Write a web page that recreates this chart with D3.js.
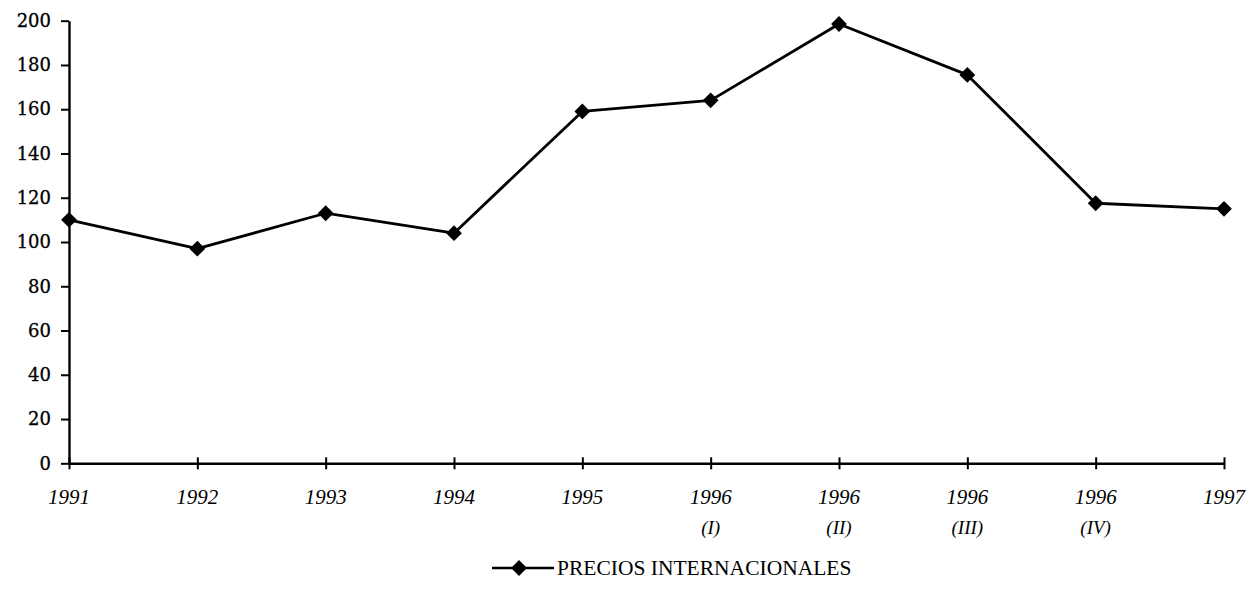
<!DOCTYPE html>
<html>
<head>
<meta charset="utf-8">
<script src="https://cdn.jsdelivr.net/npm/d3@7"></script>
<style>
  body { margin: 0; background: #fff; }
  svg { display: block; }
</style>
</head>
<body>
<svg id="chart" width="1249" height="604"></svg>
<script>
// datos
const years = ["1991", "1992", "1993", "1994", "1995", "1996", "1996", "1996", "1996", "1997"]
const quarters = ["", "", "", "", "", "(I)", "(II)", "(III)", "(IV)", ""]
const precios = [110, 97, 113, 104, 159, 164, 198.5, 175.5, 117.5, 115]
const yTicks = [0, 20, 40, 60, 80, 100, 120, 140, 160, 180, 200]
const seriesName = "PRECIOS INTERNACIONALES"

let svg = d3.select("#chart")
let mLeft = 69, mRight = 1224, mTop = 20.7, mBottom = 463.3

let keys = years.map((d, i) => i)
let x = d3.scalePoint().domain(keys).range([mLeft, mRight]).padding(0)
let y = d3.scaleLinear().domain([0, 200]).range([mBottom, mTop])

// eje y
let yAxis = svg.append("g")
    .attr("transform", `translate(${mLeft},0)`)
    .call(d3.axisLeft(y).tickValues(yTicks).tickSize(8).tickSizeOuter(0).tickPadding(10))
yAxis.select(".domain").attr("stroke", "#000").attr("stroke-width", 2.4)
yAxis.selectAll(".tick line").attr("stroke", "#000").attr("stroke-width", 2)
yAxis.selectAll("text")
    .attr("font-family", "'DejaVu Serif', serif")
    .attr("font-size", 18)
    .attr("stroke", "#000")
    .attr("stroke-width", 0.3)
    .attr("fill", "#000")

// eje x
let xAxis = svg.append("g")
    .attr("transform", `translate(0,${mBottom})`)
    .call(d3.axisBottom(x).tickSize(5).tickSizeOuter(0).tickFormat(""))
xAxis.select(".domain").attr("stroke", "#000").attr("stroke-width", 2.4)
xAxis.selectAll(".tick line")
    .attr("y1", -6).attr("y2", 6)
    .attr("stroke", "#000").attr("stroke-width", 2)

let xLab = svg.append("g")
    .selectAll("text")
    .data(keys)
    .enter()
    .append("text")
    .attr("x", d => x(d))
    .attr("text-anchor", "middle")
    .attr("font-family", "'Liberation Serif', serif")
    .attr("font-style", "italic")
    .attr("font-size", 21)
    .attr("fill", "#000")
xLab.append("tspan")
    .attr("x", d => x(d))
    .attr("y", 504)
    .text(d => years[d])
xLab.append("tspan")
    .attr("x", d => x(d))
    .attr("y", 534)
    .attr("font-size", 19)
    .text(d => quarters[d])

// linea
let line = d3.line()
    .x((d, i) => x(i))
    .y(d => y(d))
svg.append("path")
    .datum(precios)
    .attr("d", line)
    .attr("fill", "none")
    .attr("stroke", "#000")
    .attr("stroke-width", 2.8)
    .attr("stroke-linejoin", "round")

let diamond = d3.symbol().type(d3.symbolSquare).size(125)
svg.append("g")
    .selectAll("path")
    .data(precios)
    .enter()
    .append("path")
    .attr("d", diamond)
    .attr("transform", (d, i) => `translate(${x(i)},${y(d)}) rotate(45)`)
    .attr("fill", "#000")

// leyenda
let legend = svg.append("g").attr("transform", "translate(492,568)")
legend.append("line")
    .attr("x1", 0).attr("x2", 62)
    .attr("y1", 0).attr("y2", 0)
    .attr("stroke", "#000").attr("stroke-width", 2.6)
legend.append("path")
    .attr("d", diamond)
    .attr("transform", "translate(27,0) rotate(45)")
    .attr("fill", "#000")
legend.append("text")
    .attr("x", 65)
    .attr("y", 7)
    .attr("font-family", "'Liberation Serif', serif")
    .attr("font-size", 21.5)
    .attr("fill", "#000")
    .text(seriesName)
</script>
</body>
</html>
